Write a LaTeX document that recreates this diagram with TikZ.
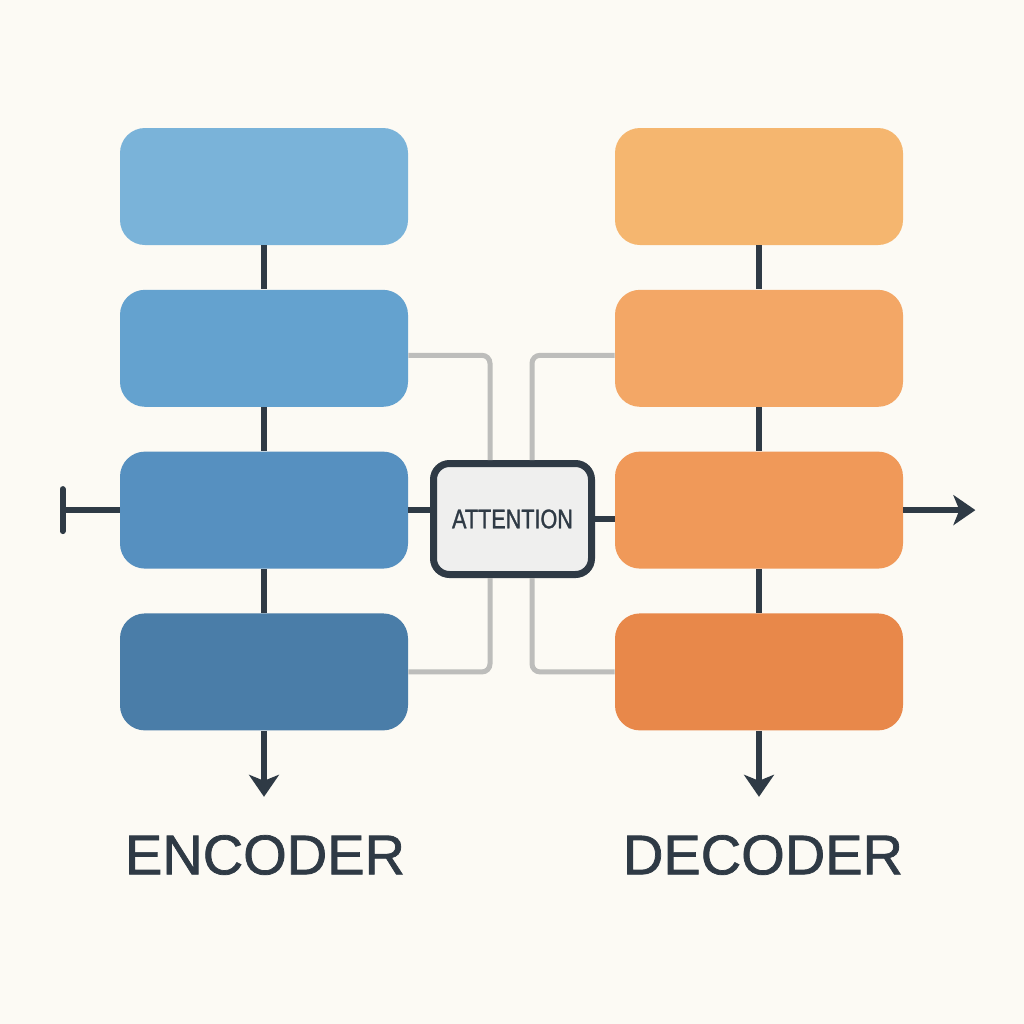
\documentclass[tikz,border=0pt]{standalone}
\usepackage{fontspec}
\setmainfont{Liberation Sans}
\newfontfamily\attnfont[FakeStretch=0.8, FakeBold=1.2]{Liberation Sans}
\newfontfamily\titlefont[FakeBold=1.3]{Liberation Sans}
\definecolor{bgCream}{HTML}{FCFAF4}
\definecolor{lineDark}{HTML}{2F3A45}
\definecolor{lineGrey}{HTML}{BDBDBB}
\definecolor{attnFill}{HTML}{EFEFEE}
\definecolor{encA}{HTML}{7AB3D9}
\definecolor{encB}{HTML}{64A2CF}
\definecolor{encC}{HTML}{5690C0}
\definecolor{encD}{HTML}{4A7DA8}
\definecolor{decA}{HTML}{F5B66F}
\definecolor{decB}{HTML}{F3A766}
\definecolor{decC}{HTML}{F09959}
\definecolor{decD}{HTML}{E8884A}
\usetikzlibrary{arrows.meta, positioning}
\tikzset{
    layer node/.style={rectangle, rounded corners=12.5pt, minimum width=144pt, minimum height=58.5pt, inner sep=0pt},
    attn node/.style={rectangle, draw=lineDark, fill=attnFill, line width=3.5pt, rounded corners=8pt,
        minimum width=79pt, minimum height=55.5pt, text=lineDark, font=\attnfont\fontsize{13.5}{14}\selectfont},
    flow line/.style={line width=3pt, lineDark},
    arrow style/.style={-{Stealth[length=11pt, width=15pt, inset=3pt]}, line width=3pt, lineDark},
    link line/.style={line width=2.5pt, lineGrey, rounded corners=4pt},
    title text/.style={text=lineDark, font=\titlefont\fontsize{28}{30}\selectfont},
}

\begin{document}
\begin{tikzpicture}[x=0.5pt, y=-0.5pt, node distance=22pt]
    \fill[bgCream] (0,0) rectangle (1024,1024);

    % encoder stack
    \node[layer node, fill=encA] (enc1) at (264,186.5) {};
    \node[layer node, fill=encB, below=of enc1] (enc2) {};
    \node[layer node, fill=encC, below=of enc2] (enc3) {};
    \node[layer node, fill=encD, below=of enc3] (enc4) {};

    % decoder stack
    \node[layer node, fill=decA] (dec1) at (759,186.5) {};
    \node[layer node, fill=decB, below=of dec1] (dec2) {};
    \node[layer node, fill=decC, below=of dec2] (dec3) {};
    \node[layer node, fill=decD, below=of dec3] (dec4) {};

    \node[attn node] (attn) at (512.5,519) {ATTENTION};

    \node[title text] (enclabel) at (265,855) {ENCODER};
    \node[title text] (declabel) at (763,855) {DECODER};

    \coordinate (in) at ([xshift=-30pt]enc3.west);
    \coordinate (out) at ([xshift=36pt]dec3.east);
    \coordinate (encout) at ([yshift=-33pt]enc4.south);
    \coordinate (decout) at ([yshift=-33pt]dec4.south);

    \draw[link line] ([yshift=-3.5pt]enc2.east) -| ([xshift=-11.25pt]attn.north);
    \draw[link line] (enc4.east) -| ([xshift=-11.25pt]attn.south);
    \draw[link line] ([yshift=-3.5pt]dec2.west) -| ([xshift=9.75pt]attn.north);
    \draw[link line] (dec4.west) -| ([xshift=9.75pt]attn.south);

    \draw[flow line] (enc1) -- (enc2);
    \draw[flow line] (enc2) -- (enc3);
    \draw[flow line] (enc3) -- (enc4);
    \draw[flow line] (dec1) -- (dec2);
    \draw[flow line] (dec2) -- (dec3);
    \draw[flow line] (dec3) -- (dec4);
    \draw[flow line] (enc3.east) -- (enc3.east -| attn.west);
    \draw[flow line] (attn.east) -- (attn.east -| dec3.west);

    \draw[flow line, {Bar[width=21pt, line cap=round]}-] (in) -- (enc3.west);
    \draw[arrow style] (dec3.east) -- (out);
    \draw[arrow style] (enc4.south) -- (encout);
    \draw[arrow style] (dec4.south) -- (decout);
\end{tikzpicture}
\end{document}
